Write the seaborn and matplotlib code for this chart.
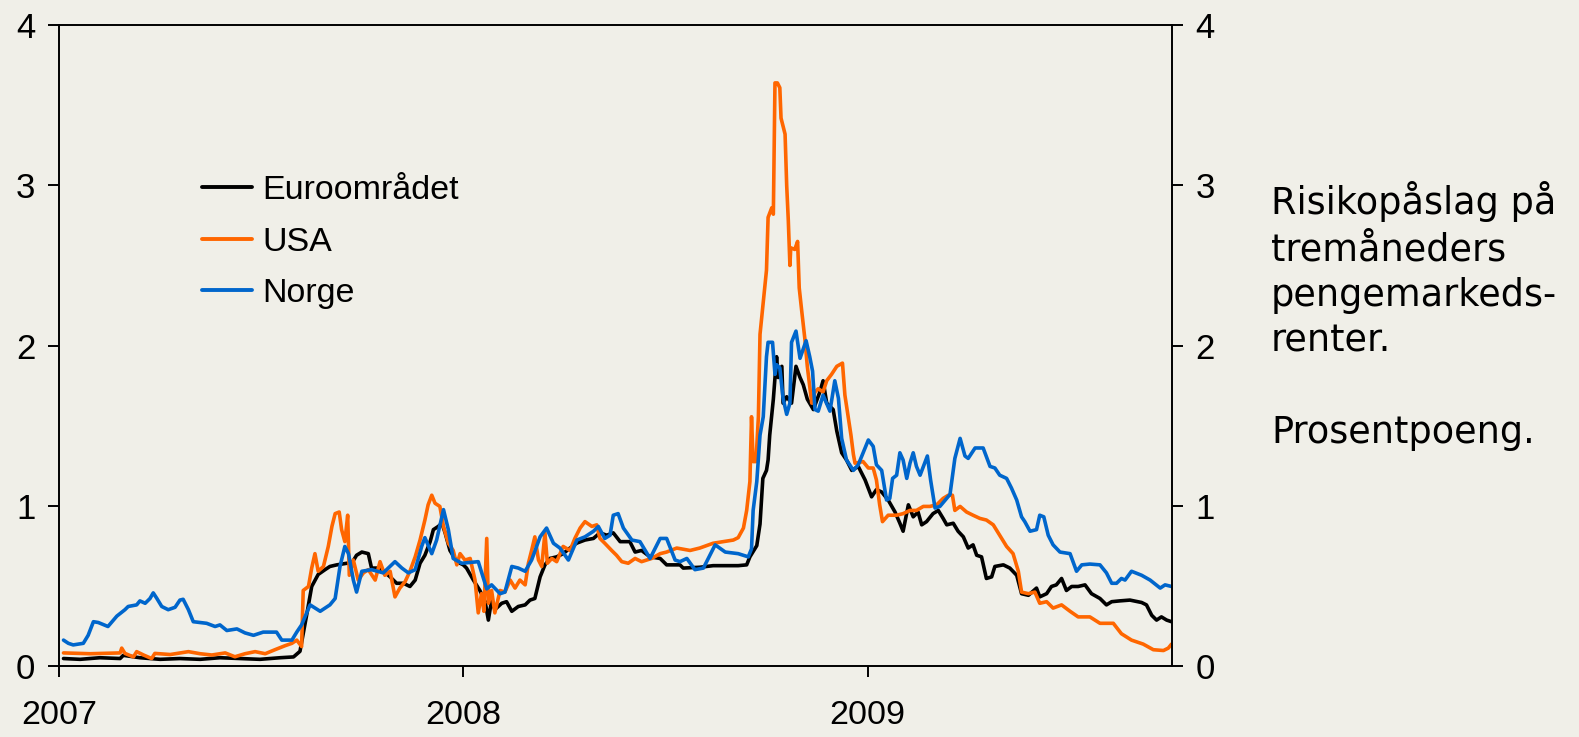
import matplotlib
matplotlib.use("Agg")
import matplotlib.pyplot as plt
import pandas as pd
import seaborn as sns

# Risk premium on three-month money market rates (percentage points).
# Time is given as decimal year.

euro_t = [2007.011, 2007.052, 2007.101, 2007.151, 2007.159, 2007.200, 2007.250, 2007.299,
          2007.349, 2007.398, 2007.448, 2007.497, 2007.547, 2007.580, 2007.596, 2007.604,
          2007.612, 2007.625, 2007.641, 2007.658, 2007.670, 2007.687, 2007.712, 2007.724,
          2007.736, 2007.749, 2007.765, 2007.773, 2007.794, 2007.819, 2007.835, 2007.852,
          2007.868, 2007.881, 2007.893, 2007.905, 2007.918, 2007.926, 2007.938, 2007.947,
          2007.955, 2007.967, 2007.984, 2008.000, 2008.008, 2008.025, 2008.041, 2008.054,
          2008.062, 2008.070, 2008.078, 2008.095, 2008.107, 2008.120, 2008.136, 2008.153,
          2008.165, 2008.177, 2008.190, 2008.202, 2008.214, 2008.231, 2008.247, 2008.264,
          2008.280, 2008.301, 2008.322, 2008.338, 2008.355, 2008.371, 2008.388, 2008.412,
          2008.425, 2008.441, 2008.462, 2008.487, 2008.503, 2008.536, 2008.544, 2008.585,
          2008.618, 2008.680, 2008.701, 2008.709, 2008.726, 2008.734, 2008.741, 2008.750,
          2008.754, 2008.758, 2008.767, 2008.775, 2008.779, 2008.788, 2008.791, 2008.800,
          2008.812, 2008.823, 2008.833, 2008.841, 2008.851, 2008.866, 2008.882, 2008.890,
          2008.899, 2008.915, 2008.924, 2008.936, 2008.948, 2008.961, 2008.977, 2008.994,
          2009.010, 2009.022, 2009.035, 2009.051, 2009.068, 2009.080, 2009.088, 2009.101,
          2009.113, 2009.125, 2009.134, 2009.146, 2009.162, 2009.175, 2009.187, 2009.196,
          2009.212, 2009.224, 2009.237, 2009.249, 2009.261, 2009.270, 2009.282, 2009.294,
          2009.307, 2009.315, 2009.336, 2009.352, 2009.369, 2009.381, 2009.398, 2009.418,
          2009.426, 2009.443, 2009.455, 2009.467, 2009.480, 2009.492, 2009.505, 2009.521,
          2009.538, 2009.554, 2009.575, 2009.591, 2009.604, 2009.624, 2009.649, 2009.678,
          2009.690, 2009.703, 2009.715, 2009.727, 2009.740, 2009.752]
euro_v = [0.045, 0.040, 0.050, 0.045, 0.065, 0.050, 0.040, 0.045,
          0.040, 0.050, 0.045, 0.040, 0.050, 0.055, 0.090, 0.200,
          0.310, 0.495, 0.570, 0.600, 0.620, 0.630, 0.640, 0.640,
          0.690, 0.710, 0.700, 0.610, 0.610, 0.555, 0.515, 0.515,
          0.495, 0.535, 0.640, 0.690, 0.775, 0.850, 0.870, 0.890,
          0.830, 0.720, 0.650, 0.630, 0.610, 0.535, 0.470, 0.400,
          0.285, 0.410, 0.350, 0.390, 0.400, 0.340, 0.370, 0.380,
          0.410, 0.420, 0.555, 0.630, 0.670, 0.680, 0.700, 0.735,
          0.765, 0.785, 0.795, 0.830, 0.815, 0.830, 0.775, 0.775,
          0.710, 0.720, 0.680, 0.670, 0.630, 0.630, 0.610, 0.615,
          0.625, 0.625, 0.630, 0.680, 0.750, 0.885, 1.170, 1.220,
          1.285, 1.440, 1.665, 1.930, 1.800, 1.870, 1.640, 1.680,
          1.640, 1.870, 1.800, 1.755, 1.665, 1.600, 1.710, 1.780,
          1.640, 1.600, 1.465, 1.330, 1.285, 1.220, 1.245, 1.160,
          1.055, 1.100, 1.085, 1.035, 0.960, 0.890, 0.840, 1.005,
          0.930, 0.960, 0.880, 0.900, 0.950, 0.970, 0.920, 0.880,
          0.890, 0.840, 0.805, 0.735, 0.755, 0.690, 0.680, 0.545,
          0.555, 0.620, 0.630, 0.610, 0.565, 0.450, 0.440, 0.485,
          0.430, 0.450, 0.495, 0.505, 0.545, 0.470, 0.495, 0.495,
          0.505, 0.450, 0.420, 0.380, 0.400, 0.405, 0.410, 0.395,
          0.380, 0.315, 0.285, 0.305, 0.285, 0.275]

usa_t = [2007.011, 2007.077, 2007.151, 2007.155, 2007.163, 2007.184, 2007.192, 2007.209,
         2007.229, 2007.237, 2007.275, 2007.320, 2007.349, 2007.378, 2007.411, 2007.435,
         2007.460, 2007.485, 2007.510, 2007.534, 2007.559, 2007.576, 2007.588, 2007.600,
         2007.604, 2007.617, 2007.625, 2007.633, 2007.641, 2007.654, 2007.666, 2007.675,
         2007.683, 2007.693, 2007.699, 2007.707, 2007.714, 2007.718, 2007.728, 2007.740,
         2007.753, 2007.765, 2007.782, 2007.794, 2007.806, 2007.819, 2007.831, 2007.843,
         2007.856, 2007.868, 2007.881, 2007.893, 2007.905, 2007.913, 2007.922, 2007.930,
         2007.942, 2007.951, 2007.963, 2007.975, 2007.984, 2007.992, 2008.004, 2008.017,
         2008.029, 2008.037, 2008.045, 2008.051, 2008.058, 2008.062, 2008.070, 2008.078,
         2008.091, 2008.103, 2008.116, 2008.128, 2008.140, 2008.153, 2008.161, 2008.169,
         2008.177, 2008.186, 2008.194, 2008.202, 2008.208, 2008.219, 2008.231, 2008.247,
         2008.264, 2008.276, 2008.289, 2008.301, 2008.318, 2008.330, 2008.338, 2008.350,
         2008.367, 2008.379, 2008.392, 2008.408, 2008.425, 2008.441, 2008.466, 2008.487,
         2008.503, 2008.528, 2008.561, 2008.585, 2008.618, 2008.643, 2008.668, 2008.680,
         2008.693, 2008.701, 2008.709, 2008.713, 2008.717, 2008.724, 2008.730, 2008.734,
         2008.742, 2008.750, 2008.754, 2008.763, 2008.767, 2008.771, 2008.777, 2008.783,
         2008.786, 2008.796, 2008.800, 2008.804, 2008.808, 2008.810, 2008.820, 2008.827,
         2008.831, 2008.837, 2008.845, 2008.851, 2008.862, 2008.870, 2008.878, 2008.890,
         2008.899, 2008.911, 2008.924, 2008.938, 2008.944, 2008.952, 2008.959, 2008.965,
         2008.969, 2008.989, 2009.002, 2009.014, 2009.022, 2009.030, 2009.037, 2009.051,
         2009.072, 2009.088, 2009.105, 2009.121, 2009.138, 2009.154, 2009.171, 2009.187,
         2009.200, 2009.210, 2009.216, 2009.229, 2009.245, 2009.261, 2009.278, 2009.294,
         2009.311, 2009.327, 2009.344, 2009.360, 2009.373, 2009.381, 2009.398, 2009.414,
         2009.426, 2009.443, 2009.459, 2009.480, 2009.501, 2009.521, 2009.550, 2009.575,
         2009.608, 2009.628, 2009.653, 2009.682, 2009.707, 2009.732, 2009.744, 2009.752]
usa_v = [0.080, 0.075, 0.080, 0.110, 0.077, 0.055, 0.088, 0.067,
         0.045, 0.077, 0.070, 0.088, 0.075, 0.067, 0.080, 0.056,
         0.075, 0.088, 0.075, 0.100, 0.125, 0.140, 0.160, 0.120,
         0.470, 0.495, 0.610, 0.700, 0.590, 0.620, 0.745, 0.870,
         0.950, 0.960, 0.850, 0.775, 0.940, 0.565, 0.660, 0.535,
         0.580, 0.600, 0.535, 0.650, 0.565, 0.590, 0.430, 0.485,
         0.525, 0.590, 0.680, 0.785, 0.910, 1.005, 1.065, 1.015,
         0.995, 0.870, 0.765, 0.720, 0.630, 0.700, 0.660, 0.670,
         0.535, 0.330, 0.450, 0.340, 0.795, 0.390, 0.470, 0.330,
         0.470, 0.460, 0.535, 0.485, 0.535, 0.505, 0.640, 0.720,
         0.805, 0.660, 0.620, 0.830, 0.640, 0.670, 0.650, 0.745,
         0.720, 0.795, 0.860, 0.900, 0.870, 0.880, 0.795, 0.765,
         0.720, 0.690, 0.650, 0.640, 0.670, 0.650, 0.670, 0.700,
         0.710, 0.735, 0.720, 0.735, 0.765, 0.775, 0.785, 0.800,
         0.860, 0.970, 1.150, 1.555, 1.275, 1.275, 1.555, 2.070,
         2.270, 2.470, 2.800, 2.860, 2.820, 3.640, 3.640, 3.610,
         3.420, 3.320, 3.000, 2.780, 2.500, 2.610, 2.600, 2.650,
         2.360, 2.220, 2.040, 1.870, 1.640, 1.710, 1.730, 1.710,
         1.780, 1.820, 1.870, 1.890, 1.690, 1.555, 1.440, 1.320,
         1.265, 1.275, 1.235, 1.235, 1.160, 1.005, 0.900, 0.940,
         0.940, 0.950, 0.970, 0.970, 0.995, 0.995, 1.005, 1.045,
         1.065, 1.065, 0.970, 0.995, 0.960, 0.940, 0.920, 0.910,
         0.880, 0.815, 0.745, 0.700, 0.590, 0.460, 0.450, 0.460,
         0.390, 0.400, 0.360, 0.380, 0.340, 0.305, 0.305, 0.265,
         0.265, 0.200, 0.160, 0.135, 0.100, 0.095, 0.110, 0.135]

norge_t = [2007.011, 2007.023, 2007.035, 2007.060, 2007.072, 2007.085, 2007.097, 2007.121,
           2007.143, 2007.163, 2007.171, 2007.192, 2007.200, 2007.213, 2007.225, 2007.233,
           2007.242, 2007.254, 2007.270, 2007.287, 2007.299, 2007.307, 2007.320, 2007.332,
           2007.365, 2007.386, 2007.398, 2007.415, 2007.440, 2007.460, 2007.481, 2007.505,
           2007.538, 2007.551, 2007.576, 2007.588, 2007.600, 2007.621, 2007.646, 2007.670,
           2007.683, 2007.695, 2007.707, 2007.716, 2007.728, 2007.736, 2007.749, 2007.773,
           2007.802, 2007.831, 2007.848, 2007.864, 2007.881, 2007.897, 2007.905, 2007.922,
           2007.934, 2007.951, 2007.963, 2007.975, 2007.996, 2008.037, 2008.058, 2008.070,
           2008.091, 2008.103, 2008.120, 2008.136, 2008.153, 2008.169, 2008.190, 2008.206,
           2008.223, 2008.239, 2008.260, 2008.281, 2008.301, 2008.322, 2008.334, 2008.350,
           2008.363, 2008.371, 2008.383, 2008.396, 2008.417, 2008.437, 2008.462, 2008.487,
           2008.503, 2008.524, 2008.536, 2008.553, 2008.573, 2008.594, 2008.623, 2008.648,
           2008.680, 2008.705, 2008.713, 2008.717, 2008.726, 2008.734, 2008.742, 2008.750,
           2008.754, 2008.765, 2008.771, 2008.775, 2008.783, 2008.791, 2008.800, 2008.808,
           2008.812, 2008.823, 2008.833, 2008.848, 2008.857, 2008.864, 2008.870, 2008.878,
           2008.890, 2008.907, 2008.919, 2008.928, 2008.936, 2008.948, 2008.965, 2008.977,
           2008.989, 2009.002, 2009.014, 2009.022, 2009.035, 2009.047, 2009.055, 2009.062,
           2009.072, 2009.080, 2009.088, 2009.097, 2009.105, 2009.113, 2009.121, 2009.130,
           2009.148, 2009.156, 2009.167, 2009.179, 2009.204, 2009.216, 2009.229, 2009.241,
           2009.249, 2009.266, 2009.286, 2009.303, 2009.315, 2009.327, 2009.344, 2009.356,
           2009.369, 2009.381, 2009.389, 2009.402, 2009.418, 2009.426, 2009.436, 2009.447,
           2009.459, 2009.476, 2009.501, 2009.517, 2009.530, 2009.550, 2009.575, 2009.591,
           2009.604, 2009.616, 2009.628, 2009.637, 2009.653, 2009.678, 2009.699, 2009.724,
           2009.736, 2009.752]
norge_v = [0.160, 0.140, 0.130, 0.140, 0.190, 0.275, 0.270, 0.245,
           0.310, 0.350, 0.370, 0.380, 0.405, 0.390, 0.420, 0.455,
           0.420, 0.370, 0.350, 0.365, 0.410, 0.415, 0.350, 0.275,
           0.265, 0.245, 0.255, 0.220, 0.230, 0.205, 0.190, 0.210,
           0.210, 0.160, 0.160, 0.210, 0.255, 0.380, 0.340, 0.380,
           0.420, 0.620, 0.745, 0.700, 0.535, 0.460, 0.590, 0.600,
           0.580, 0.650, 0.610, 0.580, 0.600, 0.745, 0.800, 0.700,
           0.785, 0.975, 0.850, 0.670, 0.640, 0.650, 0.480, 0.505,
           0.450, 0.460, 0.620, 0.610, 0.590, 0.660, 0.805, 0.860,
           0.765, 0.735, 0.660, 0.785, 0.805, 0.840, 0.870, 0.795,
           0.815, 0.940, 0.950, 0.860, 0.785, 0.775, 0.670, 0.795,
           0.795, 0.660, 0.650, 0.670, 0.600, 0.610, 0.755, 0.710,
           0.700, 0.680, 0.730, 0.970, 1.150, 1.440, 1.555, 1.930,
           2.020, 2.020, 1.820, 1.880, 1.860, 1.670, 1.570, 1.640,
           2.020, 2.090, 1.920, 2.030, 1.930, 1.840, 1.600, 1.590,
           1.690, 1.590, 1.780, 1.670, 1.420, 1.285, 1.220, 1.255,
           1.330, 1.410, 1.370, 1.255, 1.220, 1.035, 1.045, 1.170,
           1.190, 1.330, 1.285, 1.170, 1.265, 1.330, 1.245, 1.190,
           1.310, 1.160, 0.985, 0.995, 1.070, 1.295, 1.420, 1.310,
           1.295, 1.360, 1.360, 1.245, 1.235, 1.190, 1.170, 1.110,
           1.035, 0.930, 0.900, 0.840, 0.850, 0.940, 0.930, 0.815,
           0.755, 0.710, 0.700, 0.590, 0.630, 0.635, 0.630, 0.580,
           0.515, 0.515, 0.545, 0.535, 0.590, 0.565, 0.535, 0.485,
           0.505, 0.495]

series_names = ["Euroområdet", "USA", "Norge"]
series_colors = ["#000000", "#FF6600", "#0066CC"]

year_ticks = [2007, 2008, 2009]
y_ticks = [0, 1, 2, 3, 4]
side_text = "Risikopåslag på\ntremåneders\npengemarkeds-\nrenter.\n\nProsentpoeng."

frames = []
for name, t, v in zip(series_names, [euro_t, usa_t, norge_t], [euro_v, usa_v, norge_v]):
    frames.append(pd.DataFrame({"tid": t, "verdi": v, "serie": name}))
df = pd.concat(frames, ignore_index=True)

bg = "#F0EFE8"
sns.set_style("ticks")
plt.rcParams["font.family"] = ["Liberation Sans", "DejaVu Sans"]
plt.rcParams["axes.linewidth"] = 1.4
plt.rcParams["text.color"] = "black"
plt.rcParams["xtick.color"] = "black"
plt.rcParams["ytick.color"] = "black"

fig, ax = plt.subplots(figsize=(15.79, 7.37), dpi=100)
fig.patch.set_facecolor(bg)
ax.set_facecolor(bg)
fig.subplots_adjust(left=0.0374, right=0.7422, bottom=0.0967, top=0.9657)

sns.lineplot(data=df, x="tid", y="verdi", hue="serie", hue_order=series_names,
             palette=dict(zip(series_names, series_colors)), estimator=None, sort=False,
             linewidth=2.6, ax=ax)

ax.set_xlim(2007, 2009.753)
ax.set_ylim(0, 4)
ax.set_xticks(year_ticks)
ax.set_xticklabels([str(y) for y in year_ticks])
ax.set_yticks(y_ticks)
ax.set_xlabel("")
ax.set_ylabel("")
for side in ["top", "right", "left", "bottom"]:
    ax.spines[side].set_visible(True)
    ax.spines[side].set_color("black")

ax.tick_params(axis="x", direction="out", length=8, width=1.4, pad=17, labelsize=24.5,
               labelcolor="black")
ax.tick_params(axis="y", direction="out", length=8, width=1.4, pad=9, labelsize=25,
               left=True, right=True, labelleft=True, labelright=True, labelcolor="black")

leg = ax.legend(loc="upper left", bbox_to_anchor=(0.1285, 0.766), frameon=False,
                fontsize=24.5, handlelength=1.47, handletextpad=0.29, labelspacing=0.6,
                borderpad=0, borderaxespad=0)
for line in leg.get_lines():
    line.set_linewidth(2.8)
for txt in leg.get_texts():
    txt.set_color("black")

fig.text(0.805, 0.754, side_text, fontsize=26.4, family=["DejaVu Sans"], va="top",
         ha="left", linespacing=1.3, color="black")

fig.savefig("out.png", dpi=100, facecolor=bg)
